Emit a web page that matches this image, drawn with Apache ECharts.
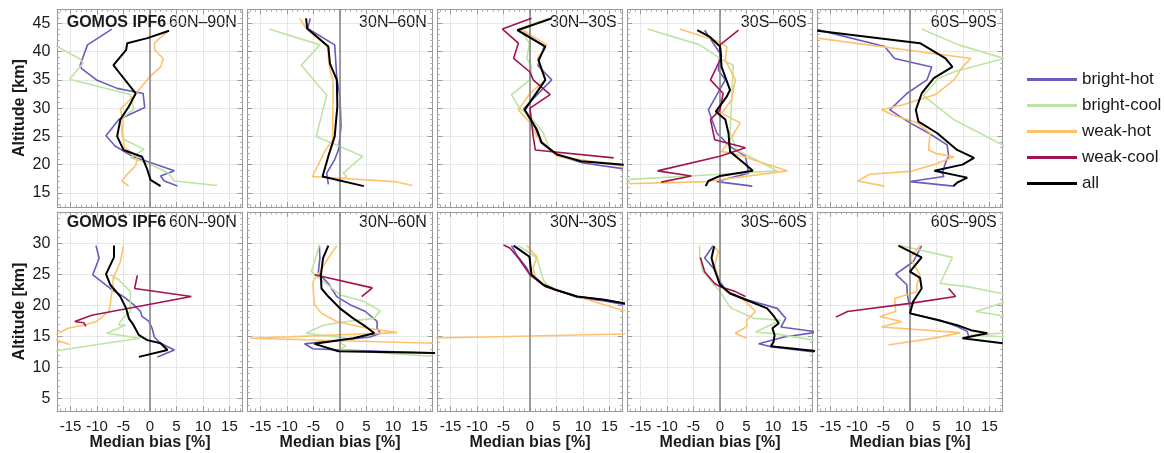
<!DOCTYPE html>
<html><head><meta charset="utf-8">
<script src="https://cdn.jsdelivr.net/npm/echarts@6/dist/echarts.min.js"></script>
<style>html,body{margin:0;padding:0;background:#fff}#c{width:1164px;height:453px}</style>
</head><body><div id="c"></div>
<script>
// ---------------- DATA ----------------
const regions = ['60N–90N', '30N–60N', '30N–30S', '30S–60S', '60S–90S'];
const seriesNames = ['bright-hot', 'bright-cool', 'weak-hot', 'weak-cool', 'all'];
const xTickLabels = [-15, -10, -5, 0, 5, 10, 15];
const topYTickLabels = [15, 20, 25, 30, 35, 40, 45];
const botYTickLabels = [5, 10, 15, 20, 25, 30];
const instrumentLabel = 'GOMOS IPF6';
const xAxisTitle = 'Median bias [%]';
const yAxisTitle = 'Altitude [km]';

// each entry: [median bias %, altitude km]; one list per region (5 regions)
const topBrightHot = [
  [[-7.2,44.0],[-11.8,41.2],[-13.2,37.6],[-12.9,37.0],[-10.1,35.0],[-6.2,33.5],[-1.3,32.6],[-1.0,30.1],[-5.9,28.0],[-8.3,25.1],[-6.6,23.3],[-3.4,21.5],[4.6,18.9],[2.0,18.0],[2.7,17.1],[5.2,16.2]],
  [[-5.6,45.9],[-6.1,44.1],[-1.0,41.2],[-0.6,35.3],[0.0,32.0],[0.2,26.8],[0.0,25.0],[-0.3,22.6],[-1.0,20.9],[-2.5,18.5],[-2.2,16.5]],
  [[3.8,45.8],[-2.2,43.9],[2.7,41.0],[1.8,38.6],[1.5,37.5],[4.1,35.0],[2.5,33.5],[-1.2,29.9],[1.0,26.5],[2.0,24.0],[5.0,21.7],[10.0,20.3],[17.5,19.3]],
  [[-2.9,43.8],[0.0,39.7],[-0.3,36.7],[1.0,35.0],[-2.2,29.7],[-0.6,25.6],[1.9,23.2],[4.8,21.5],[5.4,18.5],[-0.6,17.0],[6.1,16.2]],
  [[-17.5,43.9],[-4.8,40.9],[-2.9,38.8],[4.1,37.3],[3.2,35.0],[-0.6,32.6],[-3.8,29.7],[0.0,27.4],[3.5,25.6],[7.0,23.5],[7.3,21.5],[6.7,20.3],[6.1,18.5],[6.4,17.9],[0.0,17.0],[8.3,16.2]]
];
const topBrightCool = [
  [[-18.5,41.4],[-13.2,38.7],[-12.6,38.0],[-15.2,35.1],[-3.7,32.4],[-3.1,29.8],[-5.6,28.0],[-5.0,24.5],[-1.1,22.7],[-3.7,21.2],[-0.5,20.3],[3.3,18.6],[4.6,17.1],[12.7,16.3]],
  [[-13.4,44.0],[-3.8,41.2],[-7.3,37.6],[-2.5,32.3],[-4.5,25.0],[4.3,21.5],[0.6,18.5],[1.3,17.9],[-0.6,17.0]],
  [[3.5,45.9],[-1.9,44.0],[-0.1,41.5],[-0.6,38.8],[0.3,37.3],[0.0,35.0],[-3.5,32.4],[-2.0,30.0],[0.0,28.6],[2.5,25.6],[3.8,22.6],[7.6,20.9],[17.7,20.0]],
  [[-13.7,44.0],[-3.8,41.2],[0.0,38.8],[2.5,37.6],[2.2,31.5],[1.9,25.6],[3.2,22.6],[10.8,18.9],[0.0,18.3],[-18.5,17.3]],
  [[2.2,44.0],[9.2,41.2],[17.8,38.8],[8.5,36.5],[5.4,35.3],[2.5,32.2],[8.4,27.9],[18.5,23.0]]
];
const topWeakHot = [
  [[3.6,43.8],[0.8,41.5],[0.9,40.3],[2.5,38.8],[2.0,37.3],[-0.2,35.4],[-3.1,32.1],[-5.6,29.8],[-5.0,27.4],[-5.3,25.7],[-4.8,23.0],[-2.4,21.5],[-2.7,19.8],[-4.6,18.0],[-5.3,17.1],[-4.0,16.2]],
  [[-7.6,45.9],[-6.4,44.1],[-2.4,40.9],[-1.9,36.7],[-1.3,35.0],[-1.4,24.4],[-2.9,22.3],[-5.2,17.9],[10.2,17.0],[13.7,16.3]],
  [[3.8,45.9],[-1.9,44.1],[3.2,41.2],[1.4,38.8],[2.9,35.0],[0.0,32.6],[-2.2,29.7],[0.0,27.4],[1.3,25.0],[5.1,21.5],[17.7,19.7]],
  [[-7.6,44.0],[-0.3,41.8],[1.3,40.9],[1.0,38.5],[2.9,35.0],[2.2,31.5],[0.3,29.1],[3.8,27.4],[1.9,24.4],[0.3,22.3],[2.5,22.0],[12.7,18.9],[-2.5,17.0],[-18.5,16.6]],
  [[-17.5,42.4],[11.5,38.8],[9.9,37.3],[8.3,35.0],[4.8,32.4],[-1.3,30.6],[-5.4,29.7],[-3.2,28.8],[1.3,27.4],[3.8,25.6],[3.5,22.6],[4.8,22.0],[8.3,21.4],[4.5,20.0],[0.0,18.8],[-7.6,18.3],[-9.9,17.1],[-4.8,16.2]]
];
const topWeakCool = [
  [],
  [],
  [[0.3,45.9],[-5.2,44.0],[-2.2,41.5],[-3.1,38.8],[0.0,36.4],[0.6,35.0],[3.8,32.4],[0.0,30.0],[0.6,25.0],[1.0,22.6],[15.8,21.2]],
  [[3.5,43.8],[0.0,41.2],[0.3,39.1],[-1.8,35.0],[0.6,32.6],[0.0,29.7],[-1.8,28.0],[-1.0,24.4],[4.8,23.0],[0.0,21.5],[-11.8,18.9],[-5.4,18.0],[-11.1,16.9]],
  []
];
const topAll = [
  [[3.6,43.7],[-0.5,42.4],[-4.3,41.5],[-4.5,40.3],[-6.9,37.6],[-5.9,36.4],[-2.7,32.6],[-4.0,30.3],[-5.6,28.0],[-6.2,25.0],[-5.0,22.6],[-1.5,21.4],[-0.5,19.1],[0.1,17.3],[2.0,16.2]],
  [[-6.4,45.9],[-6.2,44.1],[-2.2,40.9],[-1.9,37.9],[-0.6,35.0],[-0.5,30.3],[-1.0,25.0],[-2.2,21.5],[-3.3,17.9],[4.5,16.2]],
  [[4.1,45.9],[-2.4,43.8],[2.9,40.9],[1.6,38.5],[2.9,35.0],[-1.0,29.7],[1.3,26.2],[2.2,23.9],[5.1,21.8],[9.6,20.6],[17.7,20.0]],
  [[-4.3,43.8],[-1.9,42.6],[0.0,40.9],[0.3,37.3],[1.9,33.2],[1.3,32.1],[-0.8,29.4],[1.0,28.0],[1.6,25.6],[1.9,22.3],[4.5,20.3],[6.2,18.9],[0.0,18.0],[-2.2,17.1],[-2.7,16.2]],
  [[-17.5,43.7],[1.9,41.5],[6.7,38.8],[8.0,37.3],[4.5,35.3],[2.2,32.6],[1.1,29.7],[1.6,27.6],[5.1,25.6],[8.9,22.6],[12.1,21.2],[9.9,20.0],[4.6,18.9],[10.8,17.7],[8.9,16.8],[8.2,16.2]]
];

const botBrightHot = [
  [[-10.2,29.6],[-9.6,27.6],[-10.8,24.9],[-7.5,22.7],[-5.0,21.4],[-3.1,20.1],[-1.8,19.0],[-1.5,18.2],[-0.2,17.4],[0.4,16.3],[0.8,14.9],[2.0,13.9],[4.6,12.8],[1.4,11.7]],
  [[-3.9,29.6],[-3.8,27.6],[-4.1,25.2],[-2.2,23.5],[-0.6,21.4],[1.9,20.1],[4.8,19.0],[7.0,17.4],[7.0,16.3],[7.6,15.5],[5.7,14.9],[0.0,14.4],[-6.7,13.8],[-5.1,13.0],[0.0,12.8],[18.5,12.3]],
  [[-3.5,29.6],[-2.5,28.1],[-0.6,26.0],[0.0,24.9],[3.2,23.0],[5.0,22.4],[8.9,21.3],[14.0,20.7],[18.5,20.0]],
  [[-1.3,29.6],[-2.9,27.6],[-1.0,25.7],[0.0,23.8],[1.3,22.2],[5.1,20.9],[10.8,19.5],[12.4,17.9],[11.5,16.5],[18.5,15.7],[18.5,15.4],[12.1,14.9],[7.3,13.8],[9.9,13.3],[18.5,12.4]],
  [[2.2,29.6],[0.6,27.0],[-2.7,25.0],[-0.6,23.3],[-0.5,21.7],[0.0,19.5],[0.0,18.7],[5.7,17.6],[8.9,16.6],[10.8,15.8],[11.1,14.9],[10.2,14.7]]
];
const botBrightCool = [
  [[-7.5,24.9],[-5.9,24.1],[-3.7,22.2],[-3.7,19.0],[-4.6,18.4],[-5.6,17.4],[-5.9,16.8],[-4.6,16.8],[-8.2,15.5],[-1.9,14.7],[-18.5,12.6]],
  [[-3.9,29.6],[-5.4,25.4],[-3.5,24.1],[0.0,21.7],[4.5,20.6],[7.6,19.1],[6.4,17.9],[1.3,17.4],[-3.2,16.8],[-6.4,15.5],[1.3,14.7],[0.0,13.9],[1.1,13.5],[0.0,12.8],[17.2,11.8]],
  [[-2.2,29.6],[0.0,28.4],[1.3,27.6],[2.5,24.1],[3.2,23.3],[5.0,22.5],[8.9,21.4],[14.0,20.9],[18.5,20.2]],
  [[-3.9,29.6],[-3.8,27.6],[-3.2,25.4],[-1.6,23.8],[0.0,22.2],[1.6,20.1],[2.2,19.5],[6.4,17.9],[11.5,17.6],[6.7,15.7],[10.5,15.4],[18.5,14.3]],
  [[-1.9,29.6],[8.0,27.7],[5.7,23.5],[10.8,23.0],[19.0,21.6],[19.0,20.8],[12.4,19.0],[19.0,18.1],[19.0,15.6],[11.5,15.2],[19.0,14.9]]
];
const botWeakHot = [
  [[-5.0,29.6],[-5.6,27.0],[-6.9,24.4],[-7.5,20.1],[-7.8,19.0],[-10.1,17.4],[-12.6,16.8],[-15.5,16.3],[-19.0,14.8],[-15.2,13.7]],
  [[-0.6,29.6],[-2.2,27.6],[-3.8,25.4],[-5.1,23.8],[-5.0,21.7],[-4.8,20.1],[-3.5,18.7],[-0.6,17.4],[5.1,16.3],[10.8,15.6],[-16.9,14.7],[17.5,13.9]],
  [[-0.6,29.6],[1.3,27.8],[0.6,26.0],[1.0,24.4],[3.2,23.0],[8.9,21.4],[17.5,19.2],[25.0,18.5],[30.0,15.6],[-25.0,14.6]],
  [[-1.3,29.6],[-0.3,28.7],[-1.0,26.5],[0.0,23.3],[1.3,22.2],[4.5,20.9],[6.7,19.0],[5.0,17.6],[5.1,16.6],[2.9,15.5],[5.0,14.7]],
  [[1.9,29.6],[0.0,27.6],[1.9,24.9],[1.3,23.3],[1.3,22.2],[-2.9,21.1],[-2.7,19.0],[-5.7,18.2],[-1.6,17.4],[-5.4,16.5],[9.5,15.6],[5.1,14.8],[-4.1,13.6]]
];
const botWeakCool = [
  [[-2.4,24.8],[-2.9,22.7],[7.8,21.4],[-11.0,18.4],[-14.2,17.4],[-12.5,17.2],[-12.1,16.6]],
  [[-4.8,24.9],[6.1,22.8],[4.1,21.4]],
  [[-5.0,29.7],[-3.8,29.2],[-2.2,27.6],[0.0,24.9],[2.9,23.0],[5.1,22.4],[8.9,21.4],[14.0,20.9],[18.5,20.2]],
  [[-3.7,27.7],[-2.9,25.4],[-1.0,23.5],[0.0,23.0],[2.9,22.2],[4.8,21.4]],
  [[7.3,22.7],[8.6,21.4],[0.0,20.3],[-11.8,19.0],[-14.0,18.1]]
];
const botAll = [
  [[-6.8,29.6],[-6.8,27.7],[-8.3,25.0],[-7.5,23.3],[-5.6,21.4],[-4.5,19.5],[-4.0,17.9],[-3.1,16.8],[-2.1,15.2],[-0.5,14.4],[2.0,13.9],[3.3,12.8],[-2.1,11.7]],
  [[-2.2,29.6],[-3.2,27.6],[-3.6,24.9],[-3.5,22.7],[-2.2,21.4],[0.0,19.5],[2.5,17.9],[4.8,16.6],[6.5,15.5],[2.5,14.7],[-4.8,13.8],[-0.3,12.6],[18.5,12.3]],
  [[-3.1,29.6],[-1.6,28.7],[-0.1,27.8],[0.3,24.9],[2.5,23.3],[4.8,22.5],[8.9,21.4],[14.0,20.9],[18.5,20.2]],
  [[-1.1,29.5],[-1.6,27.6],[-1.0,25.7],[0.0,23.3],[1.9,21.9],[5.7,20.6],[8.9,19.5],[10.2,18.2],[11.1,17.1],[9.9,16.3],[10.3,15.2],[10.1,14.1],[9.6,13.4],[18.5,12.6]],
  [[-2.2,29.6],[2.2,27.7],[0.0,25.4],[1.9,24.4],[2.2,22.7],[0.6,20.6],[0.0,18.7],[5.4,17.6],[8.9,16.8],[11.5,16.0],[14.6,15.5],[9.9,14.7],[17.5,13.9]]
];

// ---------------- STYLE / LAYOUT ----------------
const FONT = "'Liberation Sans', Arial, Helvetica, sans-serif";
const colors = ['#6a5bbf', '#bce4a3', '#ffc26b', '#a3134f', '#000000'];
const widths = [1.6, 1.6, 1.6, 1.6, 2];
const frame = '#9a9a9a';
const rows = [
  { top: 9.3, height: 197.7, min: 12.5, max: 47.5, split: 7, ticks: topYTickLabels,
    data: [topBrightHot, topBrightCool, topWeakHot, topWeakCool, topAll], labelY: 22.5 },
  { top: 212, height: 199, min: 3, max: 35, split: 6, ticks: botYTickLabels,
    data: [botBrightHot, botBrightCool, botWeakHot, botWeakCool, botAll], labelY: 222.5 }
];
const panelLeft = 57.3, panelStep = 190, panelW = 185.4;

const grid = [], xAxis = [], yAxis = [], series = [], graphic = [];
rows.forEach((row, r) => {
  regions.forEach((reg, c) => {
    const g = r * 5 + c;
    const left = panelLeft + panelStep * c;
    grid.push({ left: left, top: row.top, width: panelW, height: row.height, containLabel: false });
    const common = {
      type: 'value', gridIndex: g, min: -17.5, max: 17.5, splitNumber: 7,
      axisLine: { show: true, onZero: false, lineStyle: { color: frame, width: 1 } },
      axisTick: { show: true, inside: true, length: 5, lineStyle: { color: frame } },
      minorTick: { show: true, splitNumber: 5, length: 2.5, lineStyle: { color: '#aaaaaa' } }
    };
    xAxis.push(Object.assign({}, common, {
      position: 'bottom',
      splitLine: { show: true, lineStyle: { color: '#cfcfcf', type: 'dotted', width: 1 } },
      axisLabel: { show: r === 1, fontSize: 15, fontFamily: FONT, color: '#1a1a1a', margin: 8,
        formatter: v => (xTickLabels.indexOf(v) >= 0 ? String(v) : '') }
    }));
    xAxis.push(Object.assign({}, common, {
      position: 'top', splitLine: { show: false }, axisLabel: { show: false }
    }));
    const ycommon = {
      type: 'value', gridIndex: g, min: row.min, max: row.max, splitNumber: row.split,
      axisLine: { show: true, onZero: false, lineStyle: { color: frame, width: 1 } },
      axisTick: { show: true, inside: true, length: 5, lineStyle: { color: frame } },
      minorTick: { show: true, splitNumber: 5, length: 2.5, lineStyle: { color: '#aaaaaa' } }
    };
    yAxis.push(Object.assign({}, ycommon, {
      position: 'left',
      splitLine: { show: true, lineStyle: { color: '#cfcfcf', type: 'dotted', width: 1 } },
      axisLabel: { show: c === 0, fontSize: 16, fontFamily: FONT, color: '#1a1a1a', margin: 7,
        formatter: v => (row.ticks.indexOf(v) >= 0 ? String(v) : '') }
    }));
    yAxis.push(Object.assign({}, ycommon, {
      position: 'right', splitLine: { show: false }, axisLabel: { show: false }
    }));
    // zero reference line
    series.push({
      type: 'line', name: 'zero', xAxisIndex: 2 * g, yAxisIndex: 2 * g, data: [], z: 1,
      silent: true, animation: false,
      markLine: { silent: true, symbol: ['none', 'none'], label: { show: false }, animation: false,
        lineStyle: { color: '#888888', width: 1.6, type: 'solid' }, data: [{ xAxis: 0 }] }
    });
    row.data.forEach((arr, s) => {
      series.push({
        type: 'line', name: seriesNames[s], xAxisIndex: 2 * g, yAxisIndex: 2 * g,
        data: arr[c], showSymbol: false, symbol: 'none', clip: true, z: 2 + s,
        animation: false, silent: true,
        lineStyle: { color: colors[s], width: widths[s] },
        itemStyle: { color: colors[s] }
      });
    });
    // region label
    graphic.push({ type: 'text', x: left + panelW - 6, y: row.labelY, silent: true,
      style: { text: reg, font: '16px ' + FONT, fill: '#1a1a1a', align: 'right', verticalAlign: 'middle' } });
    if (c === 0) {
      graphic.push({ type: 'text', x: left + 9.4, y: row.labelY, silent: true, z: 10,
        style: { text: instrumentLabel, font: 'bold 16px ' + FONT, fill: '#1a1a1a', align: 'left', verticalAlign: 'middle' } });
      graphic.push({ type: 'text', x: 20, y: row.top + row.height / 2, rotation: Math.PI / 2, silent: true,
        style: { text: yAxisTitle, font: 'bold 16px ' + FONT, fill: '#1a1a1a', align: 'center', verticalAlign: 'middle' } });
    }
    if (r === 1) {
      graphic.push({ type: 'text', x: left + panelW / 2, y: 443, silent: true,
        style: { text: xAxisTitle, font: 'bold 16px ' + FONT, fill: '#1a1a1a', align: 'center', verticalAlign: 'middle' } });
    }
  });
});

const chart = echarts.init(document.getElementById('c'), null, { renderer: 'canvas' });
chart.setOption({
  backgroundColor: '#ffffff',
  animation: false,
  grid, xAxis, yAxis, series, graphic,
  legend: {
    data: seriesNames, orient: 'vertical', left: 1022, top: 66,
    itemWidth: 50, itemHeight: 3, itemGap: 9, icon: 'rect', selectedMode: false,
    textStyle: { fontSize: 17, fontFamily: FONT, color: '#1a1a1a', lineHeight: 17 }
  }
});
</script></body></html>
